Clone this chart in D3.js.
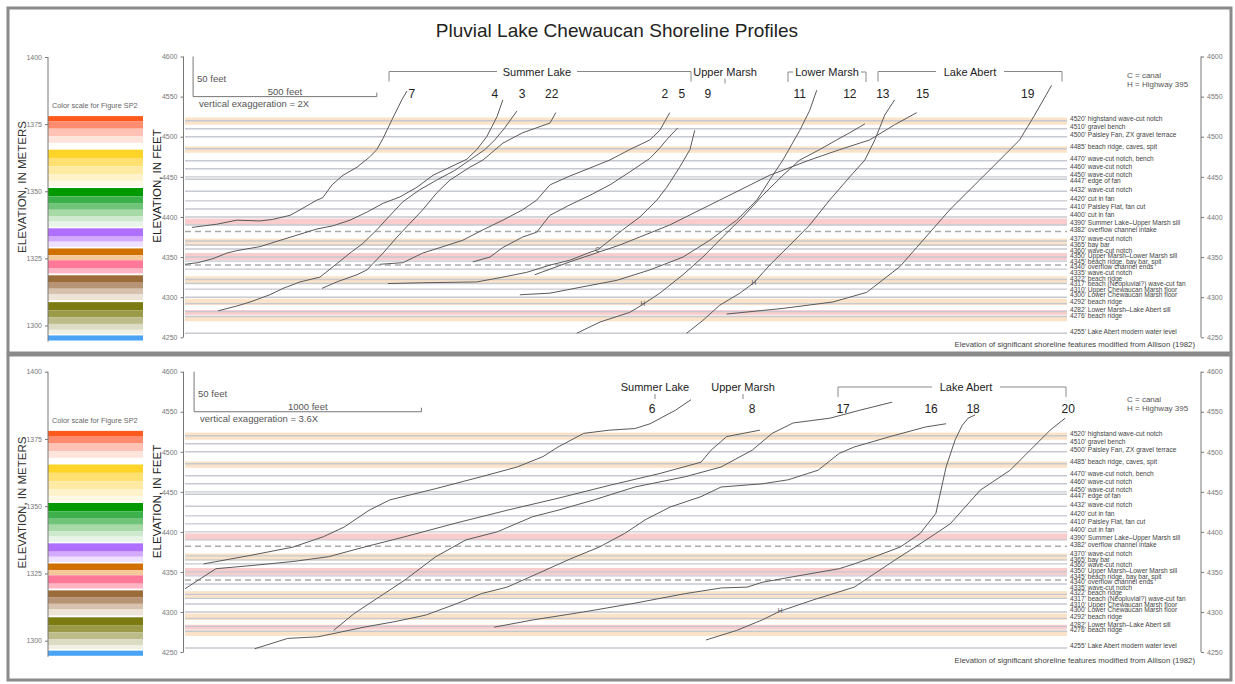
<!DOCTYPE html>
<html lang="en">
<head>
<meta charset="UTF-8">
<title>Pluvial Lake Chewaucan Shoreline Profiles</title>
<script src="https://d3js.org/d3.v7.min.js"></script>
<style>
  body { margin: 0; background: #fff; }
  text { font-family: "Liberation Sans", Arial, sans-serif; }
</style>
</head>
<body>
<svg width="1235" height="684"></svg>
<script>
// ---- shoreline features (elevation in feet) ----
const featureElev = [4520, 4510, 4500, 4485, 4470, 4460, 4450, 4447, 4432, 4420, 4410, 4400, 4390, 4382,
  4370, 4365, 4360, 4350, 4345, 4340, 4335, 4322, 4317, 4310, 4300, 4292, 4282, 4276, 4255];
const featureText = ["highstand wave-cut notch", "gravel bench", "Paisley Fan, ZX gravel terrace",
  "beach ridge, caves, spit", "wave-cut notch, bench", "wave-cut notch", "wave-cut notch", "edge of fan",
  "wave-cut notch", "cut in fan", "Paisley Flat, fan cut", "cut in fan", "Summer Lake\u2013Upper Marsh sill",
  "overflow channel intake", "wave-cut notch", "bay bar", "wave-cut notch", "Upper Marsh\u2013Lower Marsh sill",
  "beach ridge, bay bar, spit", "overflow channel ends", "wave-cut notch", "beach ridge",
  "beach (Neopluvial?) wave-cut fan", "Upper Chewaucan Marsh floor", "Lower Chewaucan Marsh floor",
  "beach ridge", "Lower Marsh\u2013Lake Abert sill", "beach ridge", "Lake Abert modern water level"];
const sillBands = [[4390, 4398], [4346, 4355], [4278, 4284]];
const beachBands = [[4515, 4524], [4480, 4488], [4364, 4373], [4317, 4326], [4290, 4298], [4270, 4277]];
const overflowLines = [4382, 4340];

// ---- colour scale (meters) ----
const meterBands = [[1378.0, 1376.1], [1376.1, 1373.3], [1373.3, 1370.5], [1370.5, 1368.0],
  [1365.5, 1362.4], [1362.4, 1359.3], [1359.3, 1356.2], [1356.2, 1353.7], [1353.7, 1351.8],
  [1351.2, 1348.1], [1348.1, 1345.6], [1345.6, 1343.1], [1343.1, 1340.6], [1340.6, 1338.7], [1338.7, 1336.8],
  [1336.2, 1333.1], [1333.1, 1331.2], [1331.2, 1329.3],
  [1328.7, 1326.2], [1326.2, 1324.3],
  [1324.3, 1321.2], [1321.2, 1319.4],
  [1318.7, 1316.2], [1316.2, 1313.7], [1313.7, 1311.6], [1311.6, 1309.4],
  [1308.7, 1305.6], [1305.6, 1303.1], [1303.1, 1300.6], [1300.6, 1298.4], [1298.4, 1296.9],
  [1296.3, 1294.4]];
const meterColors = ["#ff5a1e", "#ff8c6e", "#ffc2b4", "#ffe4dc",
  "#ffd428", "#ffe070", "#ffeaa4", "#fff3cc", "#fff9e6",
  "#009a00", "#3cb04a", "#70c47a", "#a8daa8", "#cfe9cf", "#e8f4e8",
  "#b070ff", "#d4aaff", "#eee0ff",
  "#d07000", "#f5c89a",
  "#ff7898", "#ffb4c4",
  "#9b6b3a", "#b89476", "#d6c2ae", "#ede3d6",
  "#7b7b12", "#9a9a48", "#bcbc8a", "#dcdcc4", "#f0f0e4",
  "#4aa3f4"];

// ---- profiles, upper panel: [horizontal distance ft, elevation ft] ----
const p7 = [[19,4387],[87,4391],[141,4396],[204,4395],[239,4397],[286,4402],[321,4411],[359,4421],[375,4424],
  [400,4440],[430,4452],[468,4462],[503,4475],[522,4484],[539,4498],[563,4521],[590,4546],[604,4557]];
const p4 = [[0,4341],[35,4343],[76,4348],[114,4355],[141,4358],[204,4363],[267,4372],[359,4385],[403,4389],
  [449,4396],[495,4406],[539,4417],[585,4425],[631,4437],[675,4452],[721,4462],[767,4472],[794,4484],
  [821,4500],[849,4525],[865,4546]];
const p3 = [[90,4283],[141,4289],[177,4294],[231,4303],[267,4311],[313,4319],[367,4325],[403,4338],[449,4355],
  [484,4367],[522,4384],[558,4402],[593,4419],[639,4434],[685,4446],[734,4458],[775,4471],[816,4484],
  [843,4496],[870,4511],[903,4532]];
const p22 = [[373,4311],[413,4319],[468,4328],[495,4334],[539,4355],[577,4375],[612,4392],[647,4409],
  [685,4430],[721,4446],[775,4462],[811,4471],[865,4492],[919,4505],[993,4517],[1009,4530]];
const p2 = [[530,4341],[593,4343],[647,4355],[702,4363],[756,4371],[811,4384],[865,4396],[919,4409],
  [957,4421],[993,4440],[1047,4451],[1102,4461],[1156,4471],[1210,4484],[1265,4496],[1292,4508],[1319,4530]];
const p5 = [[783,4344],[830,4350],[865,4362],[919,4375],[957,4381],[993,4402],[1047,4415],[1102,4427],
  [1156,4440],[1210,4456],[1265,4473],[1292,4486],[1314,4498],[1341,4511]];
const p9 = [[552,4317],[647,4318],[794,4319],[865,4325],[930,4331],[993,4340],[1047,4346],[1102,4356],
  [1123,4359],[1148,4368],[1191,4384],[1238,4400],[1284,4421],[1311,4437],[1346,4462],[1374,4484],[1387,4508]];
const p11 = [[911,4303],[993,4305],[1083,4313],[1175,4321],[1265,4334],[1355,4350],[1428,4371],[1501,4396],
  [1556,4421],[1591,4446],[1627,4471],[1673,4508],[1700,4533],[1719,4558]];
const p12 = [[1066,4255],[1129,4269],[1210,4281],[1246,4291],[1292,4305],[1355,4328],[1409,4350],[1463,4375],
  [1518,4400],[1572,4427],[1627,4452],[1673,4471],[1727,4484],[1773,4496],[1809,4505],[1850,4516]];
const p13 = [[1365,4255],[1409,4271],[1455,4290],[1510,4305],[1548,4318],[1591,4340],[1646,4365],[1700,4390],
  [1754,4421],[1809,4450],[1850,4471],[1877,4496],[1904,4527],[1931,4546]];
const p15 = [[952,4328],[1047,4344],[1183,4365],[1319,4390],[1455,4421],[1591,4452],[1700,4471],[1782,4484],
  [1863,4496],[1931,4515],[1991,4530]];
const p19 = [[1474,4279],[1627,4286],[1763,4294],[1855,4306],[1945,4338],[1991,4362],[2081,4409],[2162,4446],
  [2217,4471],[2271,4496],[2312,4527],[2358,4564]];

// ---- profiles, lower panel ----
const p6 = [[82,4360],[295,4371],[475,4381],[609,4394],[700,4406],[810,4427],[902,4440],[1103,4454],
  [1305,4469],[1461,4481],[1575,4494],[1641,4506],[1754,4523],[1866,4527],[1979,4529],[2046,4535],
  [2158,4552],[2226,4565]];
const p8 = [[0,4329],[136,4354],[295,4358],[475,4363],[632,4369],[788,4381],[968,4394],[1192,4411],
  [1417,4427],[1641,4442],[1866,4458],[2090,4473],[2270,4487],[2314,4502],[2383,4519],[2529,4527]];
const p17 = [[654,4277],[744,4298],[856,4319],[968,4340],[1103,4369],[1236,4390],[1373,4400],[1530,4419],
  [1641,4427],[1800,4440],[1979,4456],[2203,4469],[2358,4481],[2495,4502],[2583,4523],[2675,4536],
  [2838,4542],[2970,4552],[3111,4562]];
const p16 = [[306,4254],[452,4267],[585,4269],[788,4281],[924,4288],[1058,4296],[1192,4310],[1305,4323],
  [1417,4331],[1552,4348],[1685,4365],[1822,4381],[1934,4398],[2024,4415],[2134,4431],[2270,4444],
  [2358,4456],[2539,4460],[2653,4465],[2785,4477],[2878,4498],[2944,4506],[3102,4519],[3258,4531],[3348,4535]];
const p18 = [[1360,4281],[1530,4290],[1754,4300],[1979,4311],[2203,4323],[2360,4330],[2473,4331],[2539,4337],
  [2675,4344],[2878,4354],[2944,4360],[3034,4369],[3146,4381],[3234,4398],[3303,4423],[3348,4481],
  [3388,4515],[3419,4533],[3445,4542],[3476,4546]];
const p20 = [[2292,4265],[2427,4277],[2539,4290],[2618,4301],[2763,4315],[2944,4331],[3034,4348],[3124,4365],
  [3212,4381],[3303,4398],[3366,4410],[3498,4452],[3630,4477],[3718,4502],[3806,4527],[3872,4542]];

// profile number labels [name, distance ft]
const topNumbers = [["7",617],["4",843],["3",917],["22",998],["2",1306],["5",1352],["9",1423],
  ["11",1673],["12",1809],["13",1899],["15",2007],["19",2293]];
const bottomNumbers = [["6",2055],["8",2495],["17",2895],["16",3282],["18",3467],["20",3885]];
const topMarkers = [["C",1123,4359],["H",1246,4291],["H",1548,4318]];
const bottomMarkers = [["H",2618,4301]];
const keyText = ["C = canal", "H = Highway 395"];

const svg = d3.select("svg");
svg.append("rect").attr("width", 1235).attr("height", 684).attr("fill", "#fff");

const panels = [
  { box: [8, 8, 1223, 345], ft: [337.3, 56.5], m: [325.5, 57], xMax: 2400,
    profiles: [p7, p4, p3, p22, p2, p5, p9, p11, p12, p13, p15, p19],
    numbers: topNumbers, markers: topMarkers, bar: 500, vx: "2X", dy: 0, keyFt: 4577 },
  { box: [8, 355, 1223, 325], ft: [652, 371.7], m: [640.7, 371.7], xMax: 3880,
    profiles: [p6, p8, p17, p16, p18, p20],
    numbers: bottomNumbers, markers: bottomMarkers, bar: 1000, vx: "3.6X", dy: 315.5, keyFt: 4566 }
];

// push labels apart so they read like the original list
function dodge(ys, gap) {
  const out = ys.slice();
  for (let i = 1; i < out.length; i++) if (out[i] < out[i - 1] + gap) out[i] = out[i - 1] + gap;
  return out;
}

panels.forEach((P, pi) => {
  const g = svg.append("g");
  const y = d3.scaleLinear().domain([4250, 4600]).range(P.ft);
  const ym = d3.scaleLinear().domain([1300, 1400]).range(P.m);
  const x = d3.scaleLinear().domain([0, P.xMax]).range([185, 1067]);
  const dy = P.dy;

  g.append("rect").attr("x", P.box[0]).attr("y", P.box[1]).attr("width", P.box[2]).attr("height", P.box[3])
    .attr("fill", "none").attr("stroke", "#8a8a8a").attr("stroke-width", 3);

  // colour scale bar
  g.selectAll("rect.mb").data(meterBands).join("rect")
    .attr("x", 48).attr("width", 95)
    .attr("y", d => ym(d[0])).attr("height", d => ym(d[1]) - ym(d[0]))
    .attr("fill", (d, i) => meterColors[i]);
  g.append("text").attr("x", 52).attr("y", 107.5 + dy).attr("font-size", 7.3).attr("fill", "#666")
    .text("Color scale for Figure SP2");
  const ma = g.append("g").attr("transform", "translate(48,0)")
    .call(d3.axisLeft(ym).tickValues([1300, 1325, 1350, 1375, 1400]).tickSize(3).tickFormat(d3.format("d")));
  ma.select(".domain").attr("d", `M0,${ym(1400)}V${ym(1294)}`).attr("stroke", "#777");
  ma.selectAll("line").attr("stroke", "#777");
  ma.selectAll("text").attr("font-size", 7).attr("fill", "#777").attr("font-family", '"Liberation Sans", Arial, sans-serif');
  g.append("text").attr("transform", `translate(26,${187 + dy}) rotate(-90)`).attr("text-anchor", "middle")
    .attr("font-size", 11.5).attr("fill", "#333").text("ELEVATION, IN METERS");
  g.append("text").attr("transform", `translate(161,${186 + dy}) rotate(-90)`).attr("text-anchor", "middle")
    .attr("font-size", 11.5).attr("fill", "#222").text("ELEVATION, IN FEET");

  // shoreline bands and lines
  g.selectAll("rect.sill").data(sillBands).join("rect").attr("x", 185).attr("width", 882)
    .attr("y", d => y(d[1])).attr("height", d => y(d[0]) - y(d[1])).attr("fill", "#f9cdcd");
  g.selectAll("rect.beach").data(beachBands).join("rect").attr("x", 185).attr("width", 882)
    .attr("y", d => y(d[1])).attr("height", d => y(d[0]) - y(d[1])).attr("fill", "#fae3c8");
  g.selectAll("line.feat").data(featureElev.filter(e => !overflowLines.includes(e))).join("line")
    .attr("x1", 185).attr("x2", 1067).attr("y1", d => y(d)).attr("y2", d => y(d))
    .attr("stroke", "#c6c9cf").attr("stroke-width", 1.4);
  g.selectAll("line.over").data(overflowLines).join("line")
    .attr("x1", 185).attr("x2", 1067).attr("y1", d => y(d)).attr("y2", d => y(d))
    .attr("stroke", "#aaa").attr("stroke-width", 1.5).attr("stroke-dasharray", "6,4");
  const labelY = dodge(featureElev.map(e => y(e) - 2), 5.6);
  g.selectAll("text.feat").data(featureElev).join("text")
    .attr("x", 1070).attr("y", (d, i) => labelY[i] + 2.3).attr("font-size", 6.6).attr("fill", "#444")
    .text((d, i) => `${d}' ${featureText[i]}`);
  g.append("text").attr("x", 1195).attr("y", (pi ? 663 : 347)).attr("text-anchor", "end")
    .attr("font-size", 7.8).attr("fill", "#444")
    .text("Elevation of significant shoreline features modified from Allison (1982)");

  // feet axes
  [[183.5, d3.axisLeft(y)], [1201, d3.axisRight(y)]].forEach(([xp, ax]) => {
    const a = g.append("g").attr("transform", `translate(${xp},0)`)
      .call(ax.tickValues(d3.range(4250, 4601, 50)).tickSize(3).tickFormat(d3.format("d")));
    a.select(".domain").attr("d", `M0,${y(4600)}V${y(4250)}`).attr("stroke", "#777");
    a.selectAll("line").attr("stroke", "#777");
    a.selectAll("text").attr("font-size", 7).attr("fill", "#777").attr("font-family", '"Liberation Sans", Arial, sans-serif');
  });

  // scale bar
  const bx0 = x(P.bar === 500 ? 22 : 40), bx1 = x((P.bar === 500 ? 22 : 40) + P.bar);
  g.append("path").attr("d", `M${bx0},${y(4600)}V${y(4550)}H${bx1}V${y(4550) - 4}`)
    .attr("fill", "none").attr("stroke", "#777").attr("stroke-width", 1);
  g.append("text").attr("x", bx0 + 4).attr("y", y(4575) + 5).attr("font-size", 9.5).attr("fill", "#555").text("50 feet");
  g.append("text").attr("x", (bx0 + bx1) / 2).attr("y", y(4550) - 2).attr("text-anchor", "middle")
    .attr("font-size", 9.5).attr("fill", "#555").text(`${P.bar} feet`);
  g.append("text").attr("x", bx0 + 6).attr("y", y(4550) + 10.5).attr("font-size", 9.5).attr("fill", "#555")
    .text(`vertical exaggeration = ${P.vx}`);

  // profiles
  const line = d3.line().x(d => x(d[0])).y(d => y(d[1]));
  g.selectAll("path.prof").data(P.profiles).join("path").attr("d", line)
    .attr("fill", "none").attr("stroke", "#5a5a5a").attr("stroke-width", 1);
  g.selectAll("text.num").data(P.numbers).join("text")
    .attr("x", d => x(d[1])).attr("y", 97.5 + dy).attr("text-anchor", "middle")
    .attr("font-size", 12).attr("fill", "#222").text(d => d[0]);
  g.selectAll("text.mark").data(P.markers).join("text")
    .attr("x", d => x(d[1])).attr("y", d => y(d[2]) + 2).attr("text-anchor", "middle")
    .attr("font-size", 6.5).attr("fill", "#555").text(d => d[0]);

  g.selectAll("text.key").data(keyText).join("text")
    .attr("x", 1127).attr("y", (d, i) => y(P.keyFt) + 2.8 + i * 9)
    .attr("font-size", 8).attr("fill", "#555").text(d => d);
});

// title and group brackets
svg.append("text").attr("x", 617).attr("y", 37).attr("text-anchor", "middle").attr("font-size", 19)
  .attr("fill", "#222").text("Pluvial Lake Chewaucan Shoreline Profiles");

function bracket(x0, x1, yy, label, tx, gap) {
  svg.append("path").attr("d", `M${x0},${yy + 10}V${yy}H${tx - gap}M${tx + gap},${yy}H${x1}V${yy + 10}`)
    .attr("fill", "none").attr("stroke", "#888");
  svg.append("text").attr("x", tx).attr("y", yy + 4).attr("text-anchor", "middle").attr("font-size", 11)
    .attr("fill", "#222").text(label);
}
function tag(tx, yy, label) {
  svg.append("text").attr("x", tx).attr("y", yy + 4).attr("text-anchor", "middle").attr("font-size", 11)
    .attr("fill", "#222").text(label);
  svg.append("line").attr("x1", tx).attr("x2", tx).attr("y1", yy + 7).attr("y2", yy + 12).attr("stroke", "#888");
}
bracket(389, 691, 71.5, "Summer Lake", 537, 40);
tag(725, 71.5, "Upper Marsh");
bracket(788, 866, 72, "Lower Marsh", 827, 34);
bracket(878, 1062, 71.5, "Lake Abert", 970, 34);
tag(655, 387, "Summer Lake");
tag(743, 387, "Upper Marsh");
bracket(838, 1066, 387, "Lake Abert", 966, 34);
</script>
</body>
</html>
